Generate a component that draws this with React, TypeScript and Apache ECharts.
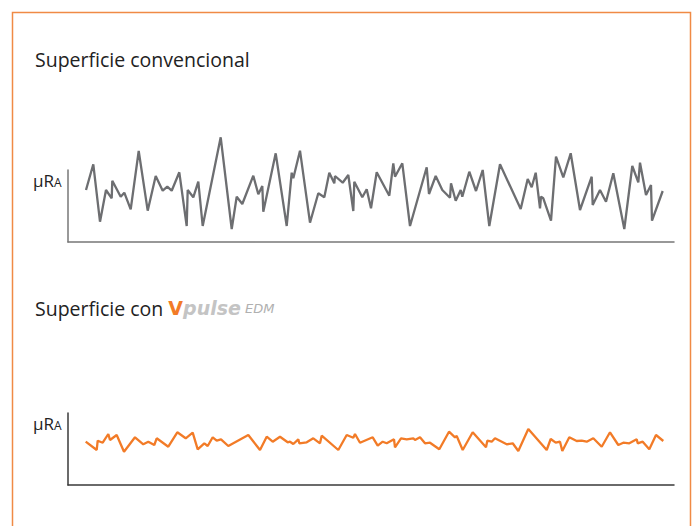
import React, { useEffect, useRef } from "react";
import * as echarts from "echarts";

// Conventional surface profile: [position along sample, height]
const convPos = [18, 25.3, 32, 38, 43.7, 44.3, 52.7, 56.3, 62.7, 70.7, 79.7, 87.7, 94.7, 99.3, 103.7, 111.3, 118.7, 119.7, 125.3, 130.3, 134.7, 152.7, 163.7, 168.7, 174.3, 185.3, 190.3, 194.3, 195.3, 207.7, 218.7, 223.7, 225.3, 232, 242, 250.3, 256.3, 261.3, 266.3, 267, 274.7, 280.3, 285.3, 286.3, 294.3, 298.7, 303, 308.7, 321.3, 325.3, 327, 334.3, 342, 358.7, 361, 367.7, 374.3, 382, 383, 387.7, 392.7, 394.3, 401.3, 408, 414.7, 421.3, 432, 452.7, 459.7, 463.7, 467.7, 472, 473, 475.3, 483, 488, 495.3, 502.7, 512, 523.7, 524.7, 532, 538, 545.3, 556.3, 564.3, 570.3, 572, 578, 583, 584, 594.7];
const convVal = [52, 77.7, 20.3, 52, 43.7, 61.3, 45.3, 49.3, 32.7, 91, 31.3, 66, 51.3, 55.3, 51.3, 69.7, 16, 52, 44.7, 60.3, 16, 104.7, 13, 45.3, 38, 66.3, 47.7, 56, 30.3, 88.7, 16, 69.3, 63.7, 91.3, 19.3, 48.7, 44.7, 69.3, 58.7, 66, 59.3, 67, 31, 60.3, 44.7, 52.7, 33.7, 69.7, 46.3, 78.7, 65.3, 78.7, 16, 74.7, 48, 66, 52, 44.3, 58.7, 41.3, 52, 45.3, 70.3, 51, 72, 16, 77.7, 33, 63, 54.7, 69.3, 33.7, 45.3, 43.7, 21.3, 85.3, 64.7, 88.7, 32, 65.3, 37, 52, 40.3, 68.7, 13, 76, 59.7, 79.3, 47, 57, 21.3, 51];

// Vpulse EDM surface profile
const vpPos = [17.7, 28.7, 29.7, 34.7, 40.3, 42, 48.7, 56, 67, 75.3, 80.3, 86.3, 88.7, 100.3, 109.3, 117.7, 124.7, 129.7, 136.3, 139.7, 144.7, 148.7, 153, 160.3, 180.3, 192, 198.7, 204.7, 212, 219.7, 222, 225.3, 230.3, 231.3, 238.7, 245.3, 252, 253.7, 270.3, 278.7, 285.3, 287, 292, 304.7, 309.7, 314.7, 318.7, 326, 327, 333, 338.7, 345.3, 347, 352, 357, 362, 371.3, 381, 387, 388.7, 394.7, 404.7, 418, 419.3, 423.7, 427, 438.7, 444.7, 450.3, 460.3, 478.7, 482.7, 487.7, 492, 494.3, 501.3, 508.7, 513.7, 518.7, 525.3, 533.7, 542, 550.3, 555.3, 561.3, 568.7, 569.7, 574.7, 581.3, 588, 595.3];
const vpVal = [43.3, 35, 44.3, 42.3, 51, 45, 50, 33.3, 47.7, 40.7, 43.3, 40, 46.7, 38.3, 52.7, 46.7, 52.3, 35.7, 41.7, 39, 47.7, 44.3, 45.7, 39, 50, 35, 48.3, 43.3, 48.3, 42.7, 43.3, 41, 45.7, 41.7, 42.7, 46.7, 41.7, 49.3, 35, 50, 47.3, 51, 42.3, 47.7, 39.3, 43.3, 41.7, 45.7, 37.7, 46.7, 45.7, 46.7, 45, 47.7, 41.7, 42.3, 35.7, 53.3, 47.7, 49, 35, 52.7, 37.7, 44.3, 43.3, 46.7, 40.7, 41.7, 34, 56, 35, 46, 42.3, 43.3, 34, 47.7, 44, 44.3, 43.3, 46.7, 38.3, 52.7, 40, 42.3, 41.7, 45.7, 41.7, 43.3, 35.7, 50, 44];

const titleTop = "Superficie convencional";
const axisLabel = "μR";
const axisSub = "A";

export default function App() {
  const ref = useRef<HTMLDivElement>(null);
  useEffect(() => {
    if (!ref.current) return;
    const chart = echarts.init(ref.current, null, { renderer: "svg" });
    const font = "'Open Sans', 'Noto Sans', sans-serif";
    const wide = "'DejaVu Sans', sans-serif";
    const mkX = (idx: number, color: string) => ({
      type: "value", gridIndex: idx, min: 0, max: 606,
      axisLine: { show: true, lineStyle: { color, width: 1.5 } },
      axisTick: { show: false }, axisLabel: { show: false }, splitLine: { show: false },
    });
    const mkY = (idx: number, color: string) => ({
      type: "value", gridIndex: idx, min: 0, max: 72,
      axisLine: { show: true, lineStyle: { color, width: 1.5 } },
      axisTick: { show: false }, axisLabel: { show: false }, splitLine: { show: false },
    });
    const unitTexts = (baseline: number) => [
      {
        type: "text",
        style: { x: 54, y: baseline, text: axisLabel, align: "right", verticalAlign: "bottom", fontSize: 17, fontFamily: font, fill: "#222" },
      },
      {
        type: "text",
        style: { x: 54, y: baseline - 1, text: axisSub, align: "left", verticalAlign: "bottom", fontSize: 12, fontFamily: font, fill: "#222" },
      },
    ];
    chart.setOption({
      animation: false,
      backgroundColor: "#fff",
      grid: [
        { left: 68, top: 170, width: 606, height: 72 },
        { left: 68, top: 413, width: 606, height: 72 },
      ],
      xAxis: [mkX(0, "#777"), mkX(1, "#3a3a3a")],
      yAxis: [mkY(0, "#777"), mkY(1, "#3a3a3a")],
      series: [
        {
          type: "line", xAxisIndex: 0, yAxisIndex: 0, clip: false, symbol: "none",
          lineStyle: { color: "#6d6e71", width: 2.3 },
          data: convPos.map((p, i) => [p, convVal[i]]),
        },
        {
          type: "line", xAxisIndex: 1, yAxisIndex: 1, clip: false, symbol: "none",
          lineStyle: { color: "#f27b27", width: 2.3 },
          data: vpPos.map((p, i) => [p, vpVal[i]]),
        },
      ],
      graphic: [
        {
          type: "rect", left: 10, top: 10, silent: true,
          shape: { width: 678, height: 600 },
          style: { fill: "none", stroke: "#f08a45", lineWidth: 1.5 },
        },
        {
          type: "text", left: 35, top: 49,
          style: { text: titleTop, fontSize: 19.5, fontFamily: font, fill: "#222" },
        },
        {
          type: "text", left: 35, top: 298,
          style: {
            text: "{n|Superficie con }{v|V}{p|pulse}{e| EDM}",
            rich: {
              n: { fontSize: 19.5, fontFamily: font, fill: "#222" },
              v: { fontSize: 19, fontFamily: wide, fontWeight: "bold", fill: "#f27b27" },
              p: { fontSize: 19, fontFamily: wide, fontWeight: "bold", fontStyle: "italic", fill: "#c4c4c4" },
              e: { fontSize: 13, fontFamily: wide, fontStyle: "italic", fill: "#b0b0b0" },
            },
          },
        },
        ...unitTexts(189),
        ...unitTexts(432),
      ],
    });
    return () => chart.dispose();
  }, []);
  return <div ref={ref} style={{ position: "fixed", left: 0, top: 0, width: 692, height: 526 }} />;
}
